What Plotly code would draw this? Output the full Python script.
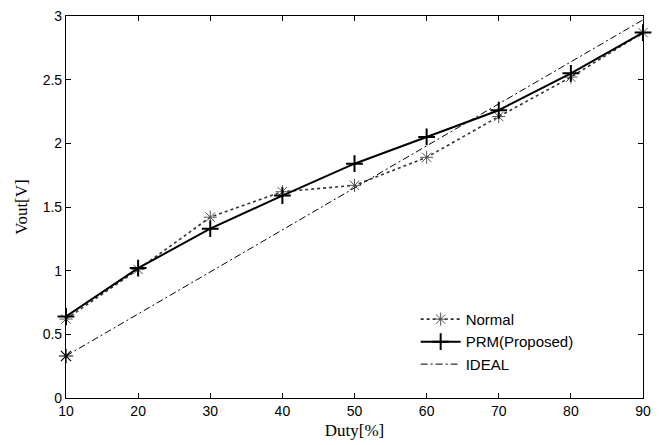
import plotly.graph_objects as go

duty = [10, 20, 30, 40, 50, 60, 70, 80, 90]
normal = [0.62, 1.01, 1.42, 1.62, 1.67, 1.89, 2.21, 2.52, 2.87]
prm = [0.64, 1.02, 1.33, 1.59, 1.84, 2.05, 2.26, 2.55, 2.87]
ideal_duty = [10, 90]
ideal = [0.33, 2.97]
ideal_marker_duty = [10]
ideal_marker = [0.33]

fig = go.Figure()
fig.add_trace(go.Scatter(
    x=duty, y=normal, name="Normal", mode="lines+markers",
    line=dict(color="#333", width=1.6, dash="dot"),
    marker=dict(symbol="asterisk-open", size=11, color="#555",
                line=dict(color="#555", width=1)),
    cliponaxis=False))
fig.add_trace(go.Scatter(
    x=duty, y=prm, name="PRM(Proposed)", mode="lines+markers",
    line=dict(color="black", width=2),
    marker=dict(symbol="cross-thin-open", size=12, color="black",
                line=dict(color="black", width=2)),
    cliponaxis=False))
fig.add_trace(go.Scatter(
    x=ideal_duty, y=ideal, name="IDEAL", mode="lines",
    line=dict(color="black", width=1, dash="7px,3px,2px,3px"),
    cliponaxis=False))
fig.add_trace(go.Scatter(
    x=ideal_marker_duty, y=ideal_marker, mode="markers", showlegend=False,
    marker=dict(symbol="asterisk-open", size=12, color="black",
                line=dict(color="black", width=1.2)),
    cliponaxis=False))

axis_common = dict(showline=True, linecolor="black", linewidth=1.2, mirror="allticks",
                   ticks="inside", ticklen=5, tickcolor="black", showgrid=False,
                   zeroline=False, automargin=False, ticklabeloverflow="allow",
                   tickfont=dict(family="Liberation Sans, Arial", size=14, color="black"))

fig.update_layout(
    width=663, height=445,
    margin=dict(l=66, r=20, t=16, b=47, autoexpand=False),
    paper_bgcolor="white", plot_bgcolor="white",
    xaxis=dict(range=[10, 90], tickvals=duty, **axis_common,
               title=dict(text="Duty[%]", standoff=6,
                          font=dict(family="Liberation Serif, Times New Roman", size=17, color="black"))),
    yaxis=dict(range=[0, 3], tickvals=[0, 0.5, 1, 1.5, 2, 2.5, 3],
               ticktext=["0", "0.5", "1", "1.5", "2", "2.5", "3"], **axis_common,
               title=dict(text="Vout[V]", standoff=10,
                          font=dict(family="Liberation Serif, Times New Roman", size=17, color="black"))),
    legend=dict(x=0.606, y=0.249, xanchor="left", yanchor="top",
                bgcolor="rgba(0,0,0,0)", borderwidth=0,
                font=dict(family="Liberation Sans, Arial", size=15, color="black"),
                tracegroupgap=0, itemwidth=40),
    showlegend=True,
)

fig.write_html("out.html", config={"displayModeBar": False},
               post_script="document.body.style.margin='0';document.body.style.overflow='hidden';")
